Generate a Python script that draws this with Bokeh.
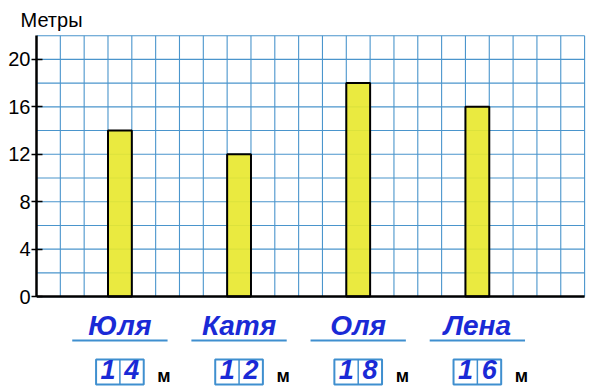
from bokeh.plotting import figure
from bokeh.models import ColumnDataSource, Range1d, FixedTicker
from bokeh.core.properties import value
from bokeh.embed import file_html
from bokeh.resources import INLINE

# ---- data ----
names = ["Юля", "Катя", "Оля", "Лена"]
heights = [14, 12, 18, 16]
y_ticks = [0, 4, 8, 12, 16, 20]
y_title = "Метры"
unit = "м"

# ---- layout constants ----
X_MAX = 23
Y_MAX = 22
grid_color = "#4a95cc"
name_color = "#1a2ad6"
box_color = "#3f8fcf"

p = figure(width=596, height=390, output_backend="svg", toolbar_location=None,
           x_range=Range1d(0, X_MAX + 0.08), y_range=Range1d(-7.92, Y_MAX + 0.1),
           min_border_left=36, min_border_right=10, min_border_top=34, min_border_bottom=0,
           title=y_title)
p.outline_line_color = None
p.xgrid.visible = False
p.ygrid.visible = False
p.xaxis.visible = False
p.background_fill_color = "white"
p.border_fill_color = "white"

p.title.align = "left"
p.title.offset = -16
p.title.standoff = 7
p.title.text_font = "Liberation Sans"
p.title.text_font_size = "20px"
p.title.text_font_style = "normal"
p.title.text_color = "black"

# grid
vx = list(range(0, X_MAX + 1))
p.segment(x0=vx, y0=[0] * len(vx), x1=vx, y1=[Y_MAX] * len(vx), line_color=grid_color, line_width=1.1)
hy = list(range(0, Y_MAX + 1, 2))
p.segment(x0=[0] * len(hy), y0=hy, x1=[X_MAX] * len(hy), y1=hy, line_color=grid_color, line_width=1.1)

# bars
xc = [3.5 + 5 * i for i in range(len(names))]
src = ColumnDataSource(dict(x=xc, top=heights, name=names))
p.vbar(x="x", top="top", bottom=0, width=1, source=src,
       fill_color="#e8e830", fill_alpha=0.92, line_color="black", line_width=2)

# baseline
p.segment(x0=[0], y0=[0], x1=[X_MAX], y1=[0], line_color="black", line_width=2.5)

# y axis
ax = p.yaxis[0]
ax.ticker = FixedTicker(ticks=y_ticks)
ax.bounds = (0, Y_MAX)
ax.axis_line_width = 2.5
ax.axis_line_color = "black"
ax.major_tick_in = 6
ax.major_tick_out = 5
ax.major_tick_line_width = 1.5
ax.major_tick_line_color = "black"
ax.minor_tick_line_color = None
ax.major_label_text_font = "Liberation Sans"
ax.major_label_text_font_size = "20px"
ax.major_label_text_color = "black"
ax.major_label_standoff = 1

# names
p.text(x="x", y=-2.40, text="name", source=src, text_font=value("Liberation Sans"),
       text_font_style="bold italic", text_font_size="28px", text_color=name_color,
       text_align="center", text_baseline="middle")
p.segment(x0=[x - 2 for x in xc], y0=[-3.71] * len(xc), x1=[x + 2 for x in xc], y1=[-3.71] * len(xc),
          line_color=box_color, line_width=2)

# value boxes
p.quad(left=[x - 1 for x in xc], right=[x + 1 for x in xc], top=[-5.31] * len(xc),
       bottom=[-7.42] * len(xc), fill_color=None, line_color=box_color, line_width=2)
p.segment(x0=xc, y0=[-5.31] * len(xc), x1=xc, y1=[-7.42] * len(xc), line_color=box_color, line_width=1.5)

dx, dy, dt = [], [], []
for x, h in zip(xc, heights):
    s = str(h)
    for k, ch in enumerate(s):
        dx.append(x - 0.5 + k)
        dy.append(-6.11)
        dt.append(ch)
p.text(x=dx, y=dy, text=dt, text_font=value("Liberation Sans"), text_font_style="bold italic",
       text_font_size="27px", text_color=name_color, text_align="center", text_baseline="middle")

p.text(x=[x + 1.85 for x in xc], y=[-6.66] * len(xc), text=[unit] * len(xc),
       text_font=value("Liberation Sans"), text_font_style="bold", text_font_size="18px",
       text_color="black", text_align="center", text_baseline="middle")

open("out.html", "w").write(file_html(p, INLINE))
